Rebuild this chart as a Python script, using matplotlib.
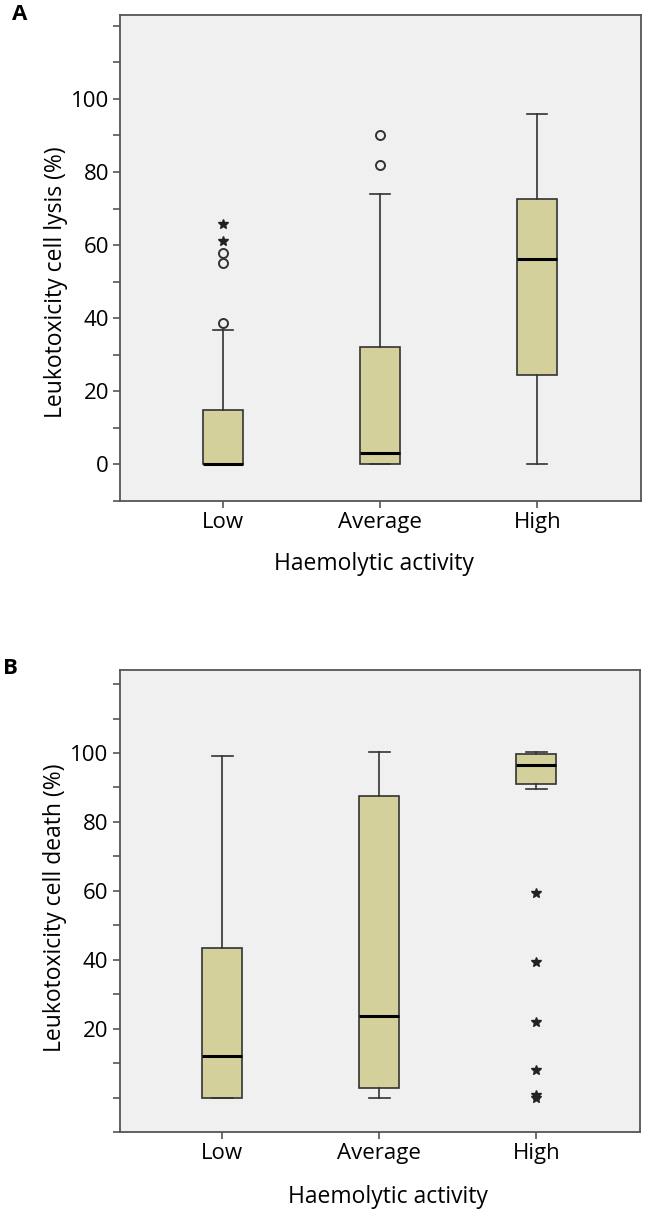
import numpy as np
import matplotlib.pyplot as plt
from matplotlib.ticker import MultipleLocator

plt.rcParams['font.family'] = ['Open Sans', 'DejaVu Sans']

cats = ['Low', 'Average', 'High']

# panel A - cell lysis
a_whislo = [0, 0, 0]
a_q1 = [0, 0, 24.4]
a_med = [0, 3, 56.2]
a_q3 = [15, 32, 72.6]
a_whishi = [36.8, 74, 96]
a_circles = [[38.8, 55, 57.9], [82, 90], []]
a_stars = [[61, 65.9], [], []]

# panel B - cell death
b_whislo = [0, 0, 89.5]
b_q1 = [0, 2.8, 91]
b_med = [12.1, 23.6, 96.6]
b_q3 = [43.3, 87.5, 99.8]
b_whishi = [99, 100.3, 100.3]
b_circles = [[], [], []]
b_stars = [[], [], [0, 0.6, 7.9, 22, 39.2, 59.3]]

box_col = '#d4d09b'
edge = '#333333'
frame = '#555555'


def panel(ax, lo, q1, med, q3, hi, circ, stars, ylab, ymax, show_zero):
    stats = []
    for i in range(3):
        stats.append(dict(label=cats[i], whislo=lo[i], q1=q1[i], med=med[i],
                          q3=q3[i], whishi=hi[i], fliers=[]))
    pos = [1, 2, 3]
    ax.bxp(stats, positions=pos, widths=0.255, patch_artist=True,
           showfliers=False,
           boxprops=dict(facecolor=box_col, edgecolor=edge, linewidth=1.2),
           medianprops=dict(color='black', linewidth=2.2),
           whiskerprops=dict(color=edge, linewidth=1.2),
           capprops=dict(color=edge, linewidth=1.2),
           capwidths=0.13)
    for i in range(3):
        if circ[i]:
            ax.plot([pos[i]] * len(circ[i]), circ[i], 'o', ms=6.5, mfc='none',
                    mec=edge, mew=1.4, zorder=5)
        if stars[i]:
            ax.plot([pos[i]] * len(stars[i]), stars[i], '*', ms=7, color='#222222',
                    zorder=5)
    ax.set_facecolor('#f0f0f0')
    ax.set_xlim(0.345, 3.66)
    ax.set_ylim(-10, ymax)
    ax.set_xticks(pos)
    ax.set_xticklabels(cats)
    if show_zero:
        ax.set_yticks([0, 20, 40, 60, 80, 100])
    else:
        ax.set_yticks([20, 40, 60, 80, 100])
    ax.yaxis.set_minor_locator(MultipleLocator(10))
    ax.tick_params(axis='both', which='both', direction='out', length=5,
                   width=1.2, color=frame, labelsize=16, pad=3)
    ax.tick_params(axis='y', which='minor', length=5)
    for s in ax.spines.values():
        s.set_color(frame)
        s.set_linewidth(1.3)
    ax.set_ylabel(ylab, fontsize=16.5)
    ax.set_xlabel('Haemolytic activity', fontsize=16.5)


fig = plt.figure(figsize=(6.46, 12.09), dpi=100)
W, H = 646.0, 1209.0

axA = fig.add_axes([120 / W, 1 - 501 / H, 521 / W, 486.5 / H])
panel(axA, a_whislo, a_q1, a_med, a_q3, a_whishi, a_circles, a_stars,
      'Leukotoxicity cell lysis (%)', 123.1, True)
axA.yaxis.set_label_coords(-0.1, 0.45)
axA.xaxis.set_label_coords(0.487, -0.105)

axB = fig.add_axes([119.5 / W, 1 - 1132 / H, 520.5 / W, 462 / H])
panel(axB, b_whislo, b_q1, b_med, b_q3, b_whishi, b_circles, b_stars,
      'Leukotoxicity cell death (%)', 124.1, False)
axB.yaxis.set_label_coords(-0.1, 0.485)
axB.xaxis.set_label_coords(0.516, -0.115)

fig.text(12 / W, 1 - 15 / H, 'A', fontsize=16, fontweight='bold', va='center',
         ha='left')
fig.text(3 / W, 1 - 668 / H, 'B', fontsize=16, fontweight='bold', va='center',
         ha='left')

fig.savefig('out.png', dpi=100)
